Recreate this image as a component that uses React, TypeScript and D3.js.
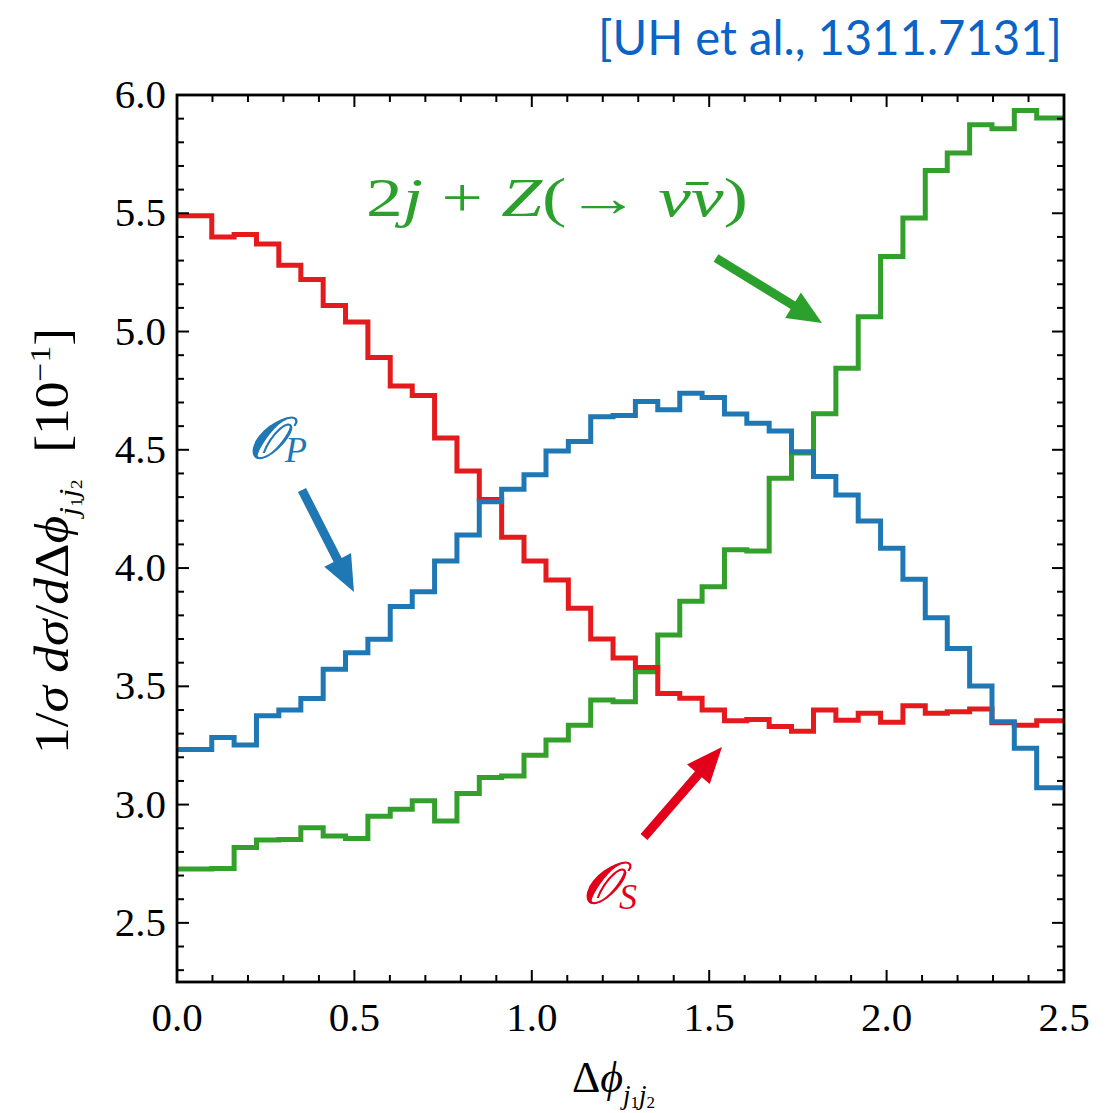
import React from "react";
import * as d3 from "d3";

// Bin edges of the histogram (Δφ)
const binEdges = [0, 0.098, 0.161, 0.224, 0.287, 0.349, 0.412, 0.475, 0.538, 0.601, 0.663, 0.726, 0.789, 0.852, 0.915, 0.978, 1.040, 1.103, 1.166, 1.229, 1.292, 1.355, 1.417, 1.480, 1.543, 1.606, 1.669, 1.732, 1.794, 1.857, 1.920, 1.983, 2.046, 2.109, 2.171, 2.234, 2.297, 2.360, 2.423, 2.5];

const redOS = [5.49, 5.40, 5.41, 5.37, 5.28, 5.22, 5.11, 5.04, 4.89, 4.77, 4.73, 4.55, 4.41, 4.29, 4.13, 4.03, 3.95, 3.83, 3.70, 3.62, 3.58, 3.47, 3.45, 3.40, 3.355, 3.36, 3.33, 3.31, 3.40, 3.357, 3.386, 3.348, 3.418, 3.386, 3.393, 3.404, 3.346, 3.336, 3.354];
const blueOP = [3.233, 3.284, 3.252, 3.376, 3.400, 3.449, 3.572, 3.642, 3.699, 3.837, 3.900, 4.030, 4.140, 4.280, 4.333, 4.394, 4.495, 4.535, 4.640, 4.645, 4.704, 4.669, 4.739, 4.721, 4.651, 4.612, 4.580, 4.492, 4.387, 4.309, 4.199, 4.084, 3.953, 3.790, 3.660, 3.501, 3.350, 3.238, 3.071];
const greenZ = [2.728, 2.730, 2.819, 2.850, 2.852, 2.902, 2.867, 2.857, 2.951, 2.980, 3.016, 2.931, 3.047, 3.115, 3.121, 3.209, 3.273, 3.336, 3.442, 3.435, 3.562, 3.717, 3.860, 3.921, 4.077, 4.072, 4.380, 4.487, 4.652, 4.845, 5.063, 5.317, 5.480, 5.681, 5.755, 5.874, 5.857, 5.935, 5.903];

const xTickLabels = ["0.0", "0.5", "1.0", "1.5", "2.0", "2.5"];
const yTickLabels = ["2.5", "3.0", "3.5", "4.0", "4.5", "5.0", "5.5", "6.0"];

const X0 = 177, X1 = 1064, Y0 = 95, Y1 = 982;
const RED = "#e41a1c", BLUE = "#1f78b4", GREEN = "#33a02c";
const SERIF = "'Liberation Serif', 'Times New Roman', Times, serif";

export default function App() {
  const x = d3.scaleLinear().domain([0, 2.5]).range([X0, X1]);
  const y = d3.scaleLinear().domain([2.25, 6.0]).range([Y1, Y0]);

  const stepPath = (vals: number[]) => {
    const pts: [number, number][] = binEdges.map((e, i) => [e, vals[Math.min(i, vals.length - 1)]]);
    return d3.line<[number, number]>().x(d => x(d[0])).y(d => y(d[1])).curve(d3.curveStepAfter)(pts) || "";
  };

  const xMinor = d3.range(0, 26).map(i => i / 10);
  const yMinor = d3.range(23, 61).map(i => i / 10);
  const isMajor = (v: number) => Math.abs(v * 2 - Math.round(v * 2)) < 1e-6;

  const arrow = (x0: number, y0: number, x1: number, y1: number, w: number, hl: number, hw: number, color: string) => {
    const dx = x1 - x0, dy = y1 - y0;
    const L = Math.hypot(dx, dy);
    const ux = dx / L, uy = dy / L, px = -uy, py = ux;
    const bx = x1 - ux * hl, by = y1 - uy * hl;
    const p = [
      [x0 + px * w / 2, y0 + py * w / 2],
      [bx + px * w / 2, by + py * w / 2],
      [bx + px * hw / 2, by + py * hw / 2],
      [x1, y1],
      [bx - px * hw / 2, by - py * hw / 2],
      [bx - px * w / 2, by - py * w / 2],
      [x0 - px * w / 2, y0 - py * w / 2],
    ];
    return <polygon points={p.map(q => q.join(",")).join(" ")} fill={color} />;
  };

  return (
    <svg width={1110} height={1113} style={{ position: "absolute", left: 0, top: 0, background: "#fff" }}>
      <rect x={0} y={0} width={1110} height={1113} fill="#fff" />
      {/* citation */}
      <text x={1062} y={55} textAnchor="end" fontFamily="Lato, 'Open Sans', sans-serif" fontSize={48} fill="#0a64c8" textLength={464} lengthAdjust="spacingAndGlyphs">[UH et al., 1311.7131]</text>

      {/* series */}
      <path d={stepPath(greenZ)} fill="none" stroke={GREEN} strokeWidth={5} />
      <path d={stepPath(redOS)} fill="none" stroke={RED} strokeWidth={5} />
      <path d={stepPath(blueOP)} fill="none" stroke={BLUE} strokeWidth={5} />

      {/* ticks */}
      {xMinor.map((v, i) => {
        const len = isMajor(v) ? 12 : 7;
        return (
          <g key={"xt" + i} stroke="#000" strokeWidth={2}>
            <line x1={x(v)} x2={x(v)} y1={Y1} y2={Y1 - len} />
            <line x1={x(v)} x2={x(v)} y1={Y0} y2={Y0 + len} />
          </g>
        );
      })}
      {yMinor.map((v, i) => {
        const len = isMajor(v) ? 12 : 7;
        return (
          <g key={"yt" + i} stroke="#000" strokeWidth={2}>
            <line x1={X0} x2={X0 + len} y1={y(v)} y2={y(v)} />
            <line x1={X1} x2={X1 - len} y1={y(v)} y2={y(v)} />
          </g>
        );
      })}
      <rect x={X0} y={Y0} width={X1 - X0} height={Y1 - Y0} fill="none" stroke="#000" strokeWidth={2.8} />

      {/* tick labels */}
      {xTickLabels.map((t, i) => (
        <text key={"xl" + i} x={x(+t)} y={1031} textAnchor="middle" fontFamily={SERIF} fontSize={41} fontWeight="normal">{t}</text>
      ))}
      {yTickLabels.map((t, i) => (
        <text key={"yl" + i} x={166} y={y(+t) + 13} textAnchor="end" fontFamily={SERIF} fontSize={41} fontWeight="normal">{t}</text>
      ))}

      {/* axis titles */}
      <text x={572} y={1092} fontFamily={SERIF} fontSize={44} fontWeight="normal">
        <tspan>Δ</tspan><tspan fontStyle="italic">ϕ</tspan>
        <tspan fontStyle="italic" fontSize={27} dy={12}>j</tspan><tspan fontSize={17} dy={4}>1</tspan>
        <tspan fontStyle="italic" fontSize={27} dy={-4}>j</tspan><tspan fontSize={17} dy={4}>2</tspan>
      </text>
      <text transform="translate(68,754) rotate(-90)" fontFamily={SERIF} fontSize={48} fontWeight="normal" textLength={426} lengthAdjust="spacingAndGlyphs">
        <tspan>1/</tspan><tspan fontStyle="italic">σ</tspan><tspan>{"\u00a0"}</tspan><tspan fontStyle="italic">dσ</tspan><tspan>/</tspan><tspan fontStyle="italic">d</tspan><tspan>Δ</tspan><tspan fontStyle="italic">ϕ</tspan>
        <tspan fontStyle="italic" fontSize={28} dy={10}>j</tspan><tspan fontSize={17} dy={4}>1</tspan>
        <tspan fontStyle="italic" fontSize={28} dy={-4}>j</tspan><tspan fontSize={17} dy={4}>2</tspan>
        <tspan dy={-14}>{"\u00a0\u00a0[10"}</tspan><tspan fontSize={30} dy={-18}>−1</tspan><tspan dy={18}>]</tspan>
      </text>

      {/* annotations */}
      <text x={366} y={216} fontFamily={SERIF} fontSize={54} fill="#2ca02c" fontWeight="normal" textLength={382} lengthAdjust="spacingAndGlyphs">
        <tspan>2</tspan><tspan fontStyle="italic">j</tspan><tspan>{" + "}</tspan><tspan fontStyle="italic">Z</tspan><tspan>(→ </tspan><tspan fontStyle="italic">ν̄ν</tspan><tspan>)</tspan>
      </text>
      {arrow(716, 258, 822, 323, 9, 34, 30, "#2ca02c")}

      <text x={248} y={458} fontFamily={SERIF} fontSize={58} fill={BLUE} fontStyle="italic" stroke={BLUE} strokeWidth={1.2}>
        <tspan>𝒪</tspan><tspan fontSize={36} dy={4} strokeWidth={0}>P</tspan>
      </text>
      {arrow(302, 490, 354, 592, 9, 36, 30, BLUE)}

      <text x={582} y={903} fontFamily={SERIF} fontSize={58} fill="#e2001a" fontStyle="italic" stroke="#e2001a" strokeWidth={1.2}>
        <tspan>𝒪</tspan><tspan fontSize={36} dy={6} strokeWidth={0}>S</tspan>
      </text>
      {arrow(644, 837, 722, 747, 9, 36, 30, "#e2001a")}
    </svg>
  );
}
